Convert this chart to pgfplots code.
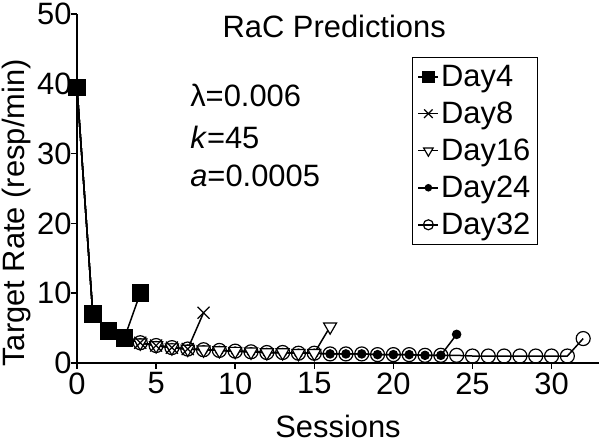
\documentclass[border=0pt]{standalone}
\usepackage{pgfplots}
\pgfplotsset{compat=1.18}
\usepackage{fontspec}
\setmainfont{Liberation Sans}
\newcommand\F{\fontsize{31}{35}\selectfont}
\begin{document}
\begin{tikzpicture}[x=1bp,y=1bp]
\useasboundingbox (-77,-80) rectangle (523,363);
\begin{axis}[
  at={(0,0)}, anchor=south west,
  scale only axis,
  width=522bp, height=349bp,
  xmin=0, xmax=33, ymin=0, ymax=50,
  axis x line=bottom, axis y line=left,
  axis line style={-, line width=1.5bp},
  xtick={0,5,...,30}, ytick={0,10,...,50},
  tick align=outside, major tick length=6bp,
  tick style={line width=1.5bp, black},
  /pgf/number format/assume math mode=true,
  tick label style={font=\F},
  yticklabel style={xshift=4bp, inner ysep=0pt},
  xlabel={Sessions}, ylabel={Target Rate (resp/min)},
  label style={font=\F},
  xlabel style={at={(axis description cs:0.5,0)}, anchor=base, yshift=-74bp, inner sep=0pt},
  ylabel style={at={(axis description cs:-0.1015,0.43)}, anchor=base, inner sep=0pt},
  clip=false,
  legend style={at={(0.642,0.877)}, anchor=north west, draw=black, line width=1bp,
    font=\F, row sep=10bp, inner xsep=5bp, inner ysep=6bp,
    cells={anchor=west},
    /tikz/every even column/.append style={column sep=6bp}},
  legend image code/.code={\draw[mark repeat=2,mark phase=2] plot coordinates {(0bp,0bp) (10bp,0bp) (20bp,0bp)};},
  legend cell align=left,
  reverse legend,
  every axis plot/.append style={line width=1.5bp, black},
]
% Day32
\addplot[mark=o, mark size=7bp, mark options={fill=white, line width=1.2bp}, legend image post style={mark size=5bp}] coordinates {
(0,39.5)(1,7.0)(2,4.6)(3,3.6)(4,2.9)(5,2.5)(6,2.2)(7,2.0)(8,1.9)(9,1.8)(10,1.7)(11,1.6)(12,1.5)(13,1.5)(14,1.4)(15,1.4)(16,1.3)(17,1.3)(18,1.3)(19,1.2)(20,1.2)(21,1.2)(22,1.1)(23,1.1)(24,1.1)(25,1.0)(26,1.0)(27,1.0)(28,1.0)(29,1.0)(30,1.0)(31,1.0)(32,3.5)};
\addlegendentry{Day32}
% Day24
\addplot[mark=*, mark size=4bp, legend image post style={mark size=3bp}] coordinates {
(0,39.5)(1,7.0)(2,4.6)(3,3.6)(4,2.9)(5,2.5)(6,2.2)(7,2.0)(8,1.9)(9,1.8)(10,1.7)(11,1.6)(12,1.5)(13,1.5)(14,1.4)(15,1.4)(16,1.3)(17,1.3)(18,1.3)(19,1.2)(20,1.2)(21,1.2)(22,1.1)(23,1.1)(24,4.1)};
\addlegendentry{Day24}
% Day16
\addplot[mark=triangle*, mark size=7.5bp, mark options={rotate=180, fill=white, line width=1.2bp}, legend image post style={mark size=5.5bp}] coordinates {
(0,39.5)(1,7.0)(2,4.6)(3,3.6)(4,2.9)(5,2.5)(6,2.2)(7,2.0)(8,1.9)(9,1.8)(10,1.7)(11,1.6)(12,1.5)(13,1.5)(14,1.4)(15,1.4)(16,5.2)};
\addlegendentry{Day16}
% Day8
\addplot[mark=x, mark size=8.5bp, mark options={line width=1.2bp}, legend image post style={mark size=6bp}] coordinates {
(0,39.5)(1,7.0)(2,4.6)(3,3.6)(4,2.9)(5,2.5)(6,2.2)(7,2.0)(8,7.2)};
\addlegendentry{Day8}
% Day4
\addplot[mark=square*, mark size=8bp, legend image post style={mark size=5.5bp}] coordinates {
(0,39.5)(1,7.0)(2,4.6)(3,3.6)(4,10.0)};
\addlegendentry{Day4}
\node[font=\F, anchor=base] at (axis cs:16.26,46.7) {RaC Predictions};
\node[font=\F, anchor=base west, inner sep=0pt] at (axis cs:7.15,36.7) {λ=0.006};
\node[font=\F, anchor=base west, inner sep=0pt] at (axis cs:7.15,30.7) {\textit{k}=45};
\node[font=\F, anchor=base west, inner sep=0pt] at (axis cs:7.15,25.3) {\textit{a}=0.0005};
\end{axis}
\end{tikzpicture}
\end{document}
